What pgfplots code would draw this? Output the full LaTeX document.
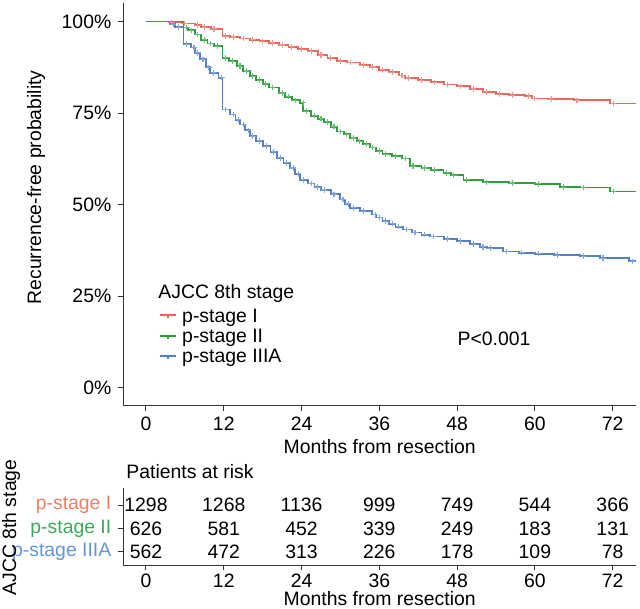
\documentclass[border=0pt]{standalone}
\usepackage{fontspec}
\setmainfont{Liberation Sans}
\usepackage{pgfplots}
\pgfplotsset{compat=1.18}
\usepackage{pgfplotstable}

\definecolor{cR}{RGB}{232,104,92}
\definecolor{cG}{RGB}{43,160,60}
\definecolor{cB}{RGB}{84,128,200}
\definecolor{tR}{RGB}{236,128,100}
\definecolor{tG}{RGB}{60,170,90}
\definecolor{tB}{RGB}{100,150,215}

% Kaplan-Meier steps (months, percent)
\pgfplotstableread{
t s
0 100
3.5 99.8
5.5 99.5
7.5 99.0
8.5 98.5
10 98.0
11.8 96.0
13 95.8
14.5 95.4
16 95.0
17.5 94.6
19 94.2
20.5 93.6
22 93.1
23.5 92.5
25 91.9
26.5 90.8
28 90.1
29.5 89.2
31 88.8
33 88.1
34.5 87.6
36 86.8
37.5 86.2
39 85.3
40 84.6
42 84.0
44 83.4
46 82.8
48 82.3
50 81.6
52 80.8
54 80.2
56 79.9
58.5 79.6
59.5 79.0
62 78.8
66 78.5
71.6 77.6
75.6 77.6
}\stageI

\pgfplotstableread{
t s
0 100
5.8 98.4
6.5 97.6
7.5 96.5
8.5 95.0
9.5 94.0
10.5 93.3
11.8 90.1
12.8 89.2
14 87.8
15 86.5
16 85.1
17 84.0
18 83.0
19 82.0
20.5 80.5
21.5 79.5
22.5 78.5
23.8 77.8
24.2 75.5
25.5 74.3
26.5 73.5
27.5 72.6
28.5 71.3
29.5 70.0
30.5 69.2
31.5 68.2
32.5 67.3
33.5 66.5
34.5 65.6
35.5 64.6
36.5 63.8
38 63.2
39.5 62.6
40.7 60.5
42.5 60.0
44 59.5
45.9 58.7
47 58.0
49 56.8
52 56.1
56 55.9
60 55.7
63.9 54.8
67 54.7
71.6 53.6
75.6 53.6
}\stageII

\pgfplotstableread{
t s
0 100
3.7 99.3
4.5 98.5
5.8 93.8
6.9 92.9
7.5 91.5
8.3 89.7
9.2 87.5
9.9 86.0
11.2 84.7
11.8 76.0
13.0 74.6
13.8 73.2
14.5 71.9
15.3 70.3
16.0 68.7
17.0 67.4
18.1 66.0
19.2 64.4
20.2 62.8
21.2 61.4
22.2 60.0
23.0 58.4
23.8 56.8
25.0 55.8
26.0 54.8
27.0 54.0
28.5 52.8
29.9 51.4
30.7 50.2
31.5 49.1
33.0 48.2
34.9 47.3
35.5 46.5
36.5 45.5
37.5 44.8
38.5 44.0
39.7 43.2
41.0 42.4
42.5 41.8
43.8 41.3
46 40.6
48 40.0
50 39.2
51.5 38.5
52.6 38.1
55.1 37.2
57.5 36.9
60.0 36.6
63 36.2
67 35.9
70 35.4
74.5 34.5
75.6 34.5
}\stageIIIA

% patients at risk
\pgfplotstableread{
t row n
0 3 1298
12 3 1268
24 3 1136
36 3 999
48 3 749
60 3 544
72 3 366
0 2 626
12 2 581
24 2 452
36 2 339
48 2 249
60 2 183
72 2 131
0 1 562
12 1 472
24 1 313
36 1 226
48 1 178
60 1 109
72 1 78
}\risk

\begin{document}
\begin{tikzpicture}[font=\fontsize{9.7}{11.6}\selectfont]
\useasboundingbox (-61.65pt,-101pt) rectangle (258.35pt,203pt);

\pgfplotsset{
  kmstyle/.style={
    scale only axis, width=256.35pt,
    xmin=-3.5, xmax=75.6,
    axis x line*=bottom, axis y line*=left,
    axis line style={black!80, line width=0.5pt, -},
    xtick={0,12,...,72},
    tick align=outside, major tick length=2.5pt,
    tick style={black!80, line width=0.5pt},
    /pgf/number format/assume math mode=true,
    ticklabel style={font=\fontsize{9.7}{11.6}\selectfont, inner sep=0pt},
    yticklabel style={anchor=east, xshift=-3.3pt},
  },
}

\begin{axis}[kmstyle,
  at={(0pt,0pt)}, anchor=south west, height=201.35pt,
  ymin=-5, ymax=105,
  ytick={0,25,50,75,100},
  yticklabels={0\%,25\%,50\%,75\%,100\%},
  xticklabel style={anchor=north, yshift=-2.7pt},
  legend style={at={(rel axis cs:0.0683,0.2440)}, anchor=north west,
    draw=none, fill=none, inner sep=0pt, row sep=0pt, column sep=2.5pt,
    nodes={inner sep=0pt, text height=7pt, text depth=3.2pt},
    font=\fontsize{9.7}{11.6}\selectfont},
  legend cell align=left,
  legend image code/.code={
    \path (0pt,-3pt) (8.35pt,3pt);
    \draw[#1] (0pt,1.5pt) -- (8.35pt,1.5pt);
    \draw[#1] (4.2pt,1.5pt) -- (4.2pt,0pt);
  },
]
\addplot[cR, line width=0.9pt, const plot] table[x=t, y=s]{\stageI};
\addlegendentry{p-stage I}
\addplot[cG, line width=0.9pt, const plot] table[x=t, y=s]{\stageII};
\addlegendentry{p-stage II}
\addplot[cB, line width=0.9pt, const plot] table[x=t, y=s]{\stageIIIA};
\addlegendentry{p-stage IIIA}

% censoring marks
\addplot[cR!70, only marks, mark=+, mark size=1.4pt, line width=0.55pt, forget plot,
  skip coords between index={0}{1}] table[x expr=\thisrow{t}+0.5, y=s]{\stageI};
\addplot[cG!70, only marks, mark=+, mark size=1.4pt, line width=0.55pt, forget plot,
  skip coords between index={0}{1}] table[x expr=\thisrow{t}+0.5, y=s]{\stageII};
\addplot[cB!70, only marks, mark=+, mark size=1.4pt, line width=0.55pt, forget plot,
  skip coords between index={0}{1}] table[x expr=\thisrow{t}+0.5, y=s]{\stageIIIA};
\end{axis}

\begin{axis}[kmstyle,
  at={(0pt,-79.5pt)}, anchor=south west, height=38.5pt,
  ymin=0.43, ymax=3.73,
  ytick={1,2,3},
  yticklabels={{\textcolor{tB}{p-stage IIIA}},{\textcolor{tG}{p-stage II}},{\textcolor{tR}{p-stage I}}},
  xticklabel style={anchor=north, yshift=-1.8pt},
]
\addplot[draw=none, mark=none, nodes near coords, point meta=explicit symbolic,
  nodes near coords style={anchor=center, font=\fontsize{9.7}{11.6}\selectfont}]
  table[x=t, y=row, meta=n]{\risk};
\end{axis}

\begin{scope}[every node/.style={inner sep=0pt}]
\node[anchor=base west] at (17.35pt,53.5pt) {AJCC 8th stage};
\node at (185.35pt,33.5pt) {P<0.001};
\node[rotate=90] at (-43.65pt,109.25pt) {Recurrence-free probability};
\node at (128.2pt,-20.5pt) {Months from resection};
\node[anchor=west] at (1.35pt,-32.85pt) {Patients at risk};
\node[rotate=90] at (-56.15pt,-60.75pt) {AJCC 8th stage};
\node at (128.2pt,-96.5pt) {Months from resection};
\end{scope}
\end{tikzpicture}
\end{document}
